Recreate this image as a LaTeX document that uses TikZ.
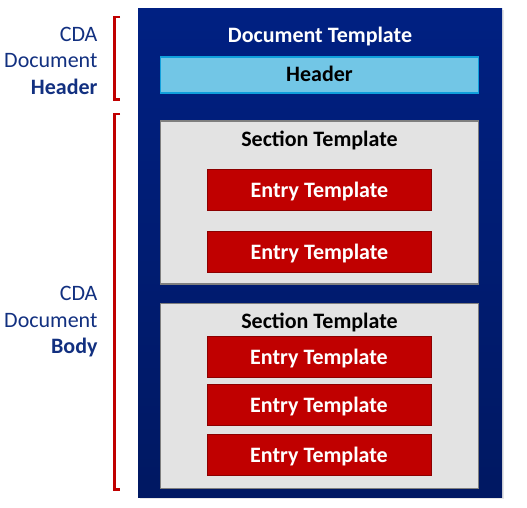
\documentclass[tikz,border=0pt]{standalone}
\usepackage{fontspec}
\setmainfont{Carlito}
\usetikzlibrary{positioning,shadows}

\definecolor{docblue}{RGB}{0,32,130}
\definecolor{docbluedark}{RGB}{0,24,98}
\definecolor{hdrfill}{RGB}{114,198,230}
\definecolor{hdrline}{RGB}{16,160,220}
\definecolor{secfill}{RGB}{227,227,227}
\definecolor{secline}{RGB}{127,127,127}
\definecolor{entryred}{RGB}{192,0,0}
\definecolor{entryline}{RGB}{140,0,0}
\definecolor{lblblue}{RGB}{18,48,128}

\begin{document}
\begin{tikzpicture}[ x=1pt , y=-1pt , node distance =20pt , on grid ,
  txt/.style={font=\fontsize{22}{26.5}\selectfont},
  doc/.style={draw=none, top color=docblue, bottom color=docbluedark, minimum width=364pt, minimum height=489pt, drop shadow={shadow xshift=2pt, shadow yshift=-2pt, opacity=0.2}},
  hdr/.style={font=\fontsize{22}{26.5}\selectfont\bfseries, text height=14pt, text depth=0pt, fill=hdrfill, draw=hdrline, line width=1.5pt, minimum width=318pt, minimum height=36pt},
  sect/.style={fill=secfill, draw=secline, line width=1.5pt, minimum width=318pt},
  entry/.style={font=\fontsize{22}{26.5}\selectfont\bfseries, text height=14pt, text depth=0pt, text=white, fill=entryred, draw=entryline, line width=1pt, minimum width=224pt, minimum height=41pt},
  title/.style={font=\fontsize{22}{26.5}\selectfont\bfseries, text height=14pt, text depth=0pt},
  side/.style={txt, text=lblblue, align=right, anchor=east},
  sidebrace/.style={draw=entryred, line width=2.5pt}
]
\useasboundingbox (0,0) rectangle (527,507);

% outer template
\node [ doc ] (doc) at (320,252.5) {};
\node [ title , text=white ] (doctitle) at (320,35) {Document Template};
\node [ hdr ] (hdr) at (319.5,74.75) {Header};

% first section
\node [ sect , minimum height=163pt ] (sec1) at (319.5,202.25) {};
\node [ title ] (sec1title) at (319.5,139) {Section Template};
\node [ entry ] (e1) at (319.5,190) {Entry Template};
\node [ entry ] (e2) [ below = 62pt of e1 ] {Entry Template};

% second section
\node [ sect , minimum height=185pt ] (sec2) at (319.5,395.75) {};
\node [ title ] (sec2title) at (319.5,321.7) {Section Template};
\node [ entry ] (e3) at (319,357.3) {Entry Template};
\node [ entry ] (e4) [ below = 48pt of e3 ] {Entry Template};
\node [ entry ] (e5) [ below = 50pt of e4 ] {Entry Template};

% side labels and brackets
\node [ side ] (lblhdr) at (101,60.5) {CDA\\Document\\\textbf{Header}};
\node [ side ] (lblbody) at (101,322) {CDA\\Document\\\textbf{Body}};
\draw [ sidebrace ] (120,17) -- (114.5,17) -- (114.5,99.5) -- (120,99.5);
\draw [ sidebrace ] (120,114) -- (114.5,114) -- (114.5,489.5) -- (120,489.5);
\end{tikzpicture}
\end{document}
